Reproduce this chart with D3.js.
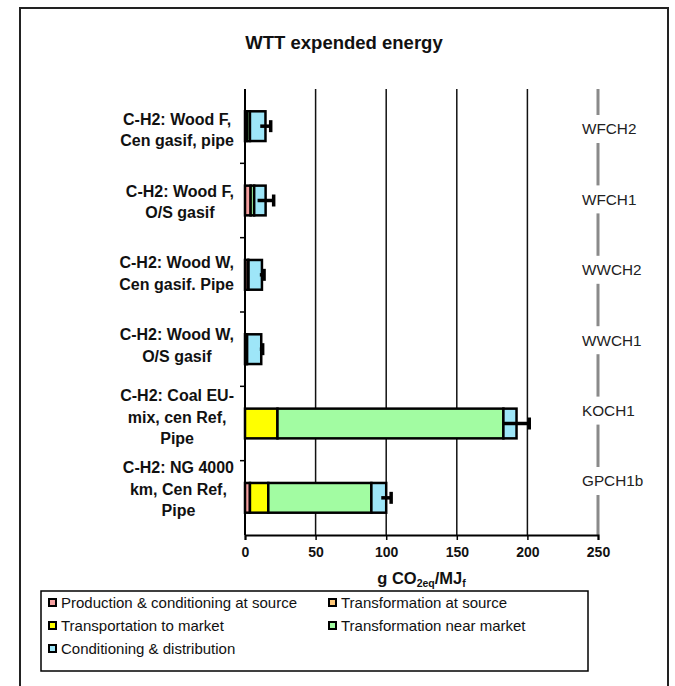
<!DOCTYPE html>
<html>
<head>
<meta charset="utf-8">
<script src="https://cdn.jsdelivr.net/npm/d3@7/dist/d3.min.js"></script>
<style>
  html, body { margin: 0; padding: 0; background: #fff; }
  svg { display: block; font-family: "Liberation Sans", Arial, sans-serif; }
</style>
</head>
<body>
<svg id="chart" width="675" height="686"></svg>
<script>
// Pathway codes (top to bottom) and their descriptive labels
const codes = ["WFCH2", "WFCH1", "WWCH2", "WWCH1", "KOCH1", "GPCH1b"];
const labels = [
  ["C-H2: Wood F,", "Cen gasif, pipe"],
  ["C-H2: Wood F,", "O/S gasif"],
  ["C-H2: Wood W,", "Cen gasif. Pipe"],
  ["C-H2: Wood W,", "O/S gasif"],
  ["C-H2: Coal EU-", "mix, cen Ref,", "Pipe"],
  ["C-H2: NG 4000", "km, Cen Ref,", "Pipe"]
];

// Expended energy per stage, g CO2eq/MJf
const production     = [1.5, 4.0, 2.0, 1.0, 0,    3.5];
const transfSource   = [0,   0,   0,   0,   0,    0];
const transport      = [0,   0,   0,   0,   23.0, 13.0];
const transfMarket   = [2.0, 2.5, 0.5, 0.5, 160.0, 73.0];
const conditioning   = [11.0, 8.1, 9.5, 10.0, 9.3, 10.5];
// Uncertainty (±) around the total
const errors         = [3.7, 5.7, 1.5, 1.0, 9.0, 3.5];

const xTicks = [0, 50, 100, 150, 200, 250];

const seriesNames = [
  "Production & conditioning at source",
  "Transformation at source",
  "Transportation to market",
  "Transformation near market",
  "Conditioning & distribution"
];
const seriesColors = ["#F5A0A0", "#FFC878", "#FFFF00", "#A2FCA2", "#9EE6F8"];
const seriesValues = [production, transfSource, transport, transfMarket, conditioning];

const svg = d3.select("#chart");

// Outer frame
svg.append("rect")
  .attr("x", 20).attr("y", 8).attr("width", 648).attr("height", 690)
  .attr("fill", "#fff").attr("stroke", "#222").attr("stroke-width", 2);

// Title
svg.append("text")
  .attr("x", 344).attr("y", 49)
  .attr("text-anchor", "middle")
  .attr("font-size", 18.5).attr("font-weight", "bold")
  .attr("fill", "#111")
  .text("WTT expended energy");

const plot = { left: 245, right: 598, top: 89, bottom: 535 };

const x = d3.scaleLinear().domain([0, 250]).range([plot.left, plot.right]);
const y = d3.scaleBand().domain(codes).range([plot.top, plot.bottom])
  .paddingInner(0.6).paddingOuter(0.3);
const yEdge = d3.scaleBand().domain(codes).range([plot.top, plot.bottom]);
// Text rows for the left labels and right-hand codes
const labelY = d3.scalePoint().domain(codes).range([130, 489]);
const codeY = d3.scalePoint().domain(codes).range([129, 481]);

// Vertical grid lines
svg.append("g").selectAll("line")
  .data(xTicks.filter(t => t > 0 && t < 250))
  .join("line")
  .attr("x1", d => x(d)).attr("x2", d => x(d))
  .attr("y1", plot.top).attr("y2", plot.bottom)
  .attr("stroke", "#111").attr("stroke-width", 1.5);

// Gray right-hand line at 250, interrupted by the pathway codes
svg.append("line")
  .attr("x1", x(250)).attr("x2", x(250))
  .attr("y1", plot.top).attr("y2", plot.bottom)
  .attr("stroke", "#8a8a8a").attr("stroke-width", 3);

// Pathway codes on the right
const codeG = svg.append("g").selectAll("g").data(codes).join("g")
  .attr("transform", d => `translate(582,${codeY(d)})`);
codeG.append("rect")
  .attr("x", -3).attr("y", -14).attr("width", 66).attr("height", 28)
  .attr("fill", "#fff");
codeG.append("text")
  .attr("dy", "0.35em")
  .attr("font-size", 15.3)
  .attr("fill", "#222")
  .text(d => d);

// Stacked series
const rows = codes.map((c, i) => {
  let acc = 0;
  const segs = seriesValues.map((vals, s) => {
    const seg = { code: c, s, x0: acc, x1: acc + vals[i] };
    acc += vals[i];
    return seg;
  });
  return { code: c, segs: segs.filter(d => d.x1 > d.x0), total: acc, err: errors[i] };
});

const barG = svg.append("g");
barG.selectAll("g").data(rows).join("g")
  .selectAll("rect").data(d => d.segs).join("rect")
  .attr("x", d => x(d.x0))
  .attr("y", d => y(d.code))
  .attr("width", d => x(d.x1) - x(d.x0))
  .attr("height", y.bandwidth())
  .attr("fill", d => seriesColors[d.s])
  .attr("stroke", "#000").attr("stroke-width", 2.5);

// Error bars
const errG = svg.append("g").selectAll("g").data(rows).join("g");
errG.append("line")
  .attr("x1", d => x(d.total - d.err)).attr("x2", d => x(d.total + d.err))
  .attr("y1", d => y(d.code) + y.bandwidth() / 2)
  .attr("y2", d => y(d.code) + y.bandwidth() / 2)
  .attr("stroke", "#000").attr("stroke-width", 3.5);
errG.append("line")
  .attr("x1", d => x(d.total + d.err)).attr("x2", d => x(d.total + d.err))
  .attr("y1", d => y(d.code) + y.bandwidth() / 2 - 6)
  .attr("y2", d => y(d.code) + y.bandwidth() / 2 + 6)
  .attr("stroke", "#000").attr("stroke-width", 3.5);

// Left category axis with ticks at band boundaries
svg.append("line")
  .attr("x1", plot.left).attr("x2", plot.left)
  .attr("y1", plot.top).attr("y2", plot.bottom)
  .attr("stroke", "#000").attr("stroke-width", 2);
svg.append("g").selectAll("line")
  .data(codes.slice(1))
  .join("line")
  .attr("x1", plot.left - 5).attr("x2", plot.left)
  .attr("y1", d => yEdge(d)).attr("y2", d => yEdge(d))
  .attr("stroke", "#000").attr("stroke-width", 1.5);

// Category labels: lines centred within a block whose right edge is fixed
const labRight = 234;
const lab = svg.append("g").selectAll("text").data(codes).join("text")
  .attr("text-anchor", "middle")
  .attr("font-size", 16).attr("font-weight", "bold")
  .attr("fill", "#111");
lab.each(function (d, i) {
  const lines = labels[i];
  const lh = 21.5;
  const start = labelY(d) - (lines.length - 1) * lh / 2;
  const t = d3.select(this);
  const spans = t.selectAll("tspan").data(lines).join("tspan")
    .attr("y", (s, k) => start + k * lh)
    .attr("dy", "0.35em")
    .text(s => s);
  let maxW = 0;
  spans.each(function () { maxW = Math.max(maxW, this.getComputedTextLength()); });
  spans.attr("x", labRight - maxW / 2);
});

// Bottom value axis
const xAxis = svg.append("g")
  .attr("transform", `translate(0,${plot.bottom})`)
  .call(d3.axisBottom(x).tickValues(xTicks).tickSize(5).tickPadding(7).tickFormat(d3.format("d")));
xAxis.select(".domain").attr("stroke", "#000").attr("stroke-width", 2);
xAxis.selectAll(".tick line").attr("stroke", "#000").attr("stroke-width", 1.5);
xAxis.selectAll(".tick text")
  .attr("font-family", "Liberation Sans, Arial, sans-serif")
  .attr("font-size", 14).attr("font-weight", "bold").attr("fill", "#111");

// Axis title
const at = svg.append("text")
  .attr("x", x(125)).attr("y", 584)
  .attr("text-anchor", "middle")
  .attr("font-size", 16.5).attr("font-weight", "bold")
  .attr("fill", "#111");
at.append("tspan").text("g CO");
at.append("tspan").attr("font-size", 10.5).attr("dy", 3).text("2eq");
at.append("tspan").attr("dy", -3).text("/MJ");
at.append("tspan").attr("font-size", 10.5).attr("dy", 3).text("f");

// Legend
svg.append("rect")
  .attr("x", 41).attr("y", 591).attr("width", 547).attr("height", 80)
  .attr("fill", "#fff").attr("stroke", "#000").attr("stroke-width", 1.5);
const legPos = [[49, 603], [329, 603], [49, 626], [329, 626], [49, 649]];
const leg = svg.append("g").selectAll("g").data(seriesNames).join("g")
  .attr("transform", (d, i) => `translate(${legPos[i][0]},${legPos[i][1]})`);
leg.append("rect")
  .attr("x", 0).attr("y", -4).attr("width", 7).attr("height", 7)
  .attr("fill", (d, i) => seriesColors[i])
  .attr("stroke", "#000").attr("stroke-width", 2);
leg.append("text")
  .attr("x", 12).attr("dy", "0.35em")
  .attr("font-size", 15).attr("fill", "#111")
  .text(d => d);
</script>
</body>
</html>
